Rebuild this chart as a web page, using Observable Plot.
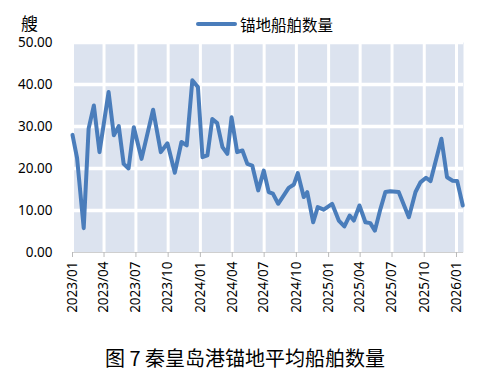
<!DOCTYPE html>
<html><head><meta charset="utf-8">
<script src="https://cdn.jsdelivr.net/npm/d3@7"></script>
<script src="https://cdn.jsdelivr.net/npm/@observablehq/plot@0.6"></script>
<style>
body{margin:0;background:#fff;font-family:"Noto Sans CJK SC","Noto Sans",sans-serif}
#wrap{position:relative;width:479px;height:386px;overflow:hidden}
#unit{position:absolute;left:21px;top:13px;font-size:17px;line-height:20px;color:#000}
#legend{position:absolute;left:196px;top:13px;height:22px;display:flex;align-items:center;font-size:15.5px;color:#000}
#legend span.sw{display:inline-block;width:41px;height:4px;background:#4a7dbb;margin-right:3px;border-radius:2px}
#caption{position:absolute;left:0;width:490px;top:343px;text-align:center;font-size:20px;color:#000;white-space:pre}
</style></head>
<body><div id="wrap"></div>
<script>
const dates = ["2023-01-01","2023-01-14","2023-02-02","2023-02-16","2023-03-03","2023-03-19","2023-04-14","2023-04-29","2023-05-13","2023-05-27","2023-06-10","2023-06-25","2023-07-17","2023-08-19","2023-09-10","2023-09-29","2023-10-20","2023-11-08","2023-11-23","2023-12-09","2023-12-25","2024-01-07","2024-01-21","2024-02-04","2024-02-18","2024-03-04","2024-03-18","2024-03-30","2024-04-15","2024-04-30","2024-05-14","2024-05-28","2024-06-14","2024-06-30","2024-07-14","2024-07-26","2024-08-10","2024-08-26","2024-09-09","2024-09-24","2024-10-05","2024-10-22","2024-11-01","2024-11-18","2024-12-01","2024-12-18","2025-01-11","2025-01-30","2025-02-15","2025-03-02","2025-03-14","2025-03-30","2025-04-16","2025-04-30","2025-05-13","2025-05-29","2025-06-12","2025-06-26","2025-07-20","2025-08-18","2025-09-06","2025-09-20","2025-10-06","2025-10-19","2025-11-19","2025-12-05","2025-12-21","2026-01-03","2026-01-19"];
const values = [28.0,22.5,5.8,29.5,35.0,23.9,38.2,27.9,30.1,21.1,20.0,29.8,22.3,34.0,23.9,26.0,19.0,26.3,25.5,41.0,39.4,22.7,23.1,31.8,30.8,25.1,23.5,32.2,23.9,24.3,21.1,20.7,14.8,19.5,14.4,14.0,11.6,13.6,15.4,16.2,18.9,13.2,14.4,7.2,10.8,10.2,11.6,7.6,6.2,8.8,7.6,11.2,7.2,7.0,5.2,10.4,14.4,14.6,14.4,8.4,14.4,16.7,17.8,17.0,27.1,17.9,17.1,17.0,11.2];
const tickLabels = ["2023/01","2023/04","2023/07","2023/10","2024/01","2024/04","2024/07","2024/10","2025/01","2025/04","2025/07","2025/10","2026/01"];
const yTicks = [0,10,20,30,40,50];
const seriesName = "锚地船舶数量";
const unitLabel = "艘";
const captionText = "图 7 秦皇岛港锚地平均船舶数量";

const data = dates.map((d,i)=>({date:new Date(d), value:values[i]}));
const tickDates = tickLabels.map(s=>new Date(s.replace("/","-")+"-01"));
const fmt = d3.utcFormat("%Y/%m");

const chart = Plot.plot({
  width:479, height:330,
  marginTop:42, marginBottom:78, marginLeft:72, marginRight:16,
  style:{fontFamily:"'Noto Sans','Liberation Sans',sans-serif", fontSize:"13.5px", color:"#000", background:"transparent"},
  x:{type:"utc", domain:[new Date("2023-01-01"), new Date("2026-01-21")], label:null},
  y:{domain:[0,50], label:null},
  marks:[
    Plot.frame({fill:"#dce3ef", stroke:null}),
    Plot.ruleX(tickDates,{stroke:"#fff", strokeWidth:3}),
    Plot.ruleY(yTicks.filter(v=>v>0),{stroke:"#fff", strokeWidth:3.5}),
    Plot.ruleY([0],{stroke:"#cfcfcf", strokeWidth:1}),
    Plot.axisX({ticks:tickDates, tickFormat:fmt, tickRotate:-90, tickSize:5, stroke:"#bbb", tickPadding:4, fontSize:13.5, label:null}),
    Plot.axisY({ticks:yTicks, tickFormat:d=>d.toFixed(2), tickSize:0, tickPadding:20, fontSize:13.5, label:null}),
    Plot.line(data,{x:"date", y:"value", stroke:"#4a7dbb", strokeWidth:4, strokeLinejoin:"round", strokeLinecap:"round"})
  ]
});
const wrap = document.getElementById("wrap");
wrap.appendChild(chart);
const u = document.createElement("div"); u.id="unit"; u.textContent=unitLabel; wrap.appendChild(u);
const lg = document.createElement("div"); lg.id="legend";
lg.innerHTML = '<span class="sw"></span><span></span>';
lg.lastChild.textContent = seriesName; wrap.appendChild(lg);
const cap = document.createElement("div"); cap.id="caption"; cap.textContent=captionText; wrap.appendChild(cap);
</script>
</body></html>
